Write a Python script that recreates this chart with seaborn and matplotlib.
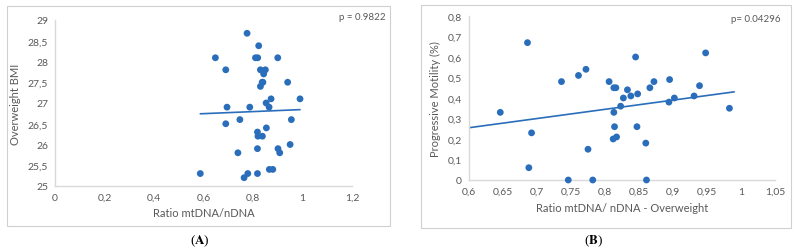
import numpy as np
import pandas as pd
import seaborn as sns
import matplotlib
matplotlib.use("Agg")
import matplotlib.pyplot as plt
from matplotlib.ticker import FuncFormatter
from matplotlib.patches import Rectangle

# Panel A data
a_ratio = [0.776, 0.823, 0.648, 0.810, 0.819, 0.900, 0.690, 0.830, 0.850, 0.843,
           0.940, 0.837, 0.830, 0.840, 0.990, 0.873, 0.853, 0.865, 0.695, 0.787,
           0.747, 0.955, 0.690, 0.854, 0.818, 0.820, 0.838, 0.950, 0.818, 0.901,
           0.908, 0.739, 0.587, 0.779, 0.764, 0.818, 0.866, 0.880]
a_bmi = [28.68, 28.38, 28.09, 28.09, 28.09, 28.09, 27.80, 27.80, 27.80, 27.70,
         27.50, 27.50, 27.40, 27.50, 27.10, 27.10, 27.00, 26.90, 26.90, 26.90,
         26.60, 26.60, 26.50, 26.40, 26.30, 26.20, 26.20, 26.00, 25.90, 25.90,
         25.80, 25.80, 25.30, 25.30, 25.20, 25.30, 25.40, 25.40]
a_trend_x = [0.587, 0.990]
a_trend_y = [26.74, 26.84]

# Panel B data
b_ratio = [0.646, 0.686, 0.688, 0.692, 0.736, 0.746, 0.761, 0.772, 0.775, 0.782,
           0.806, 0.813, 0.816, 0.813, 0.814, 0.812, 0.817, 0.823, 0.827, 0.833,
           0.838, 0.845, 0.848, 0.847, 0.860, 0.861, 0.866, 0.872, 0.894, 0.895,
           0.902, 0.931, 0.939, 0.948, 0.983]
b_motility = [0.33, 0.67, 0.06, 0.23, 0.48, 0.00, 0.51, 0.54, 0.15, 0.00,
              0.48, 0.45, 0.45, 0.33, 0.26, 0.20, 0.21, 0.36, 0.40, 0.44,
              0.41, 0.60, 0.42, 0.26, 0.18, 0.00, 0.45, 0.48, 0.38, 0.49,
              0.40, 0.41, 0.46, 0.62, 0.35]
b_trend_x = [0.600, 0.990]
b_trend_y = [0.255, 0.430]

a_xticks = [0, 0.2, 0.4, 0.6, 0.8, 1.0, 1.2]
a_yticks = [25, 25.5, 26, 26.5, 27, 27.5, 28, 28.5, 29]
b_xticks = [0.6, 0.65, 0.7, 0.75, 0.8, 0.85, 0.9, 0.95, 1.0, 1.05]
b_yticks = [0, 0.1, 0.2, 0.3, 0.4, 0.5, 0.6, 0.7, 0.8]

sns.set_theme(style="white")
plt.rcParams['font.family'] = ['Lato', 'DejaVu Sans']

BLUE = '#2a6ebb'
GRID = '#d9d9d9'
TXT = '#595959'

fig = plt.figure(figsize=(7.96, 2.51), dpi=100)
W, H = 796, 251

def fr(x0, y0, x1, y1):
    return [x0 / W, 1 - y1 / H, (x1 - x0) / W, (y1 - y0) / H]

# Frames
for (x0, y0, x1, y1) in [(7, 7, 390, 227), (421, 6, 791, 229)]:
    fig.patches.append(Rectangle((x0 / W, 1 - y1 / H), (x1 - x0) / W, (y1 - y0) / H,
                                 transform=fig.transFigure, fill=False,
                                 edgecolor='#d0d0d0', linewidth=0.8))

def fmt(v, pos):
    s = ('%.2f' % v).rstrip('0').rstrip('.')
    return s.replace('.', ',')

def style(ax, xt, yt, xl, yl, xlab, ylab):
    ax.set_xlim(*xl)
    ax.set_ylim(*yl)
    ax.set_xticks(xt)
    ax.set_yticks(yt)
    ax.xaxis.set_major_formatter(FuncFormatter(fmt))
    ax.yaxis.set_major_formatter(FuncFormatter(fmt))
    for s in ['top', 'right']:
        ax.spines[s].set_visible(False)
    for s in ['left', 'bottom']:
        ax.spines[s].set_color(GRID)
        ax.spines[s].set_linewidth(1.0)
    ax.tick_params(length=0, labelsize=7.5, colors=TXT, pad=5)
    ax.set_xlabel(xlab, fontsize=8, color=TXT, labelpad=4)
    ax.set_ylabel(ylab, fontsize=8, color=TXT, labelpad=5)
    ax.patch.set_alpha(0)

axA = fig.add_axes(fr(55, 21, 352, 187))
sns.scatterplot(x=a_ratio, y=a_bmi, ax=axA, color=BLUE, s=24, edgecolor='none', zorder=3)
sns.lineplot(x=a_trend_x, y=a_trend_y, ax=axA, color=BLUE, linewidth=1.2)
style(axA, a_xticks, a_yticks, (0, 1.2), (25, 29), 'Ratio mtDNA/nDNA', 'Overweight BMI')
fig.text(362 / W, 1 - 18 / H, 'p = 0.9822', fontsize=7, color=TXT, ha='center', va='center')

axB = fig.add_axes(fr(469, 17, 775, 181))
sns.scatterplot(x=b_ratio, y=b_motility, ax=axB, color=BLUE, s=24, edgecolor='none', zorder=3, clip_on=False)
sns.lineplot(x=b_trend_x, y=b_trend_y, ax=axB, color=BLUE, linewidth=1.2)
style(axB, b_xticks, b_yticks, (0.6, 1.05), (0, 0.8), 'Ratio mtDNA/ nDNA - Overweight', 'Progressive Motility (%)')
fig.text(756 / W, 1 - 19 / H, 'p= 0.04296', fontsize=7, color=TXT, ha='center', va='center')

fig.text(200 / W, 1 - 241 / H, r'($\mathbf{A}$)', fontsize=9.5, color='black', ha='center', va='center',
         family='Liberation Serif', math_fontfamily='stix')
fig.text(594 / W, 1 - 241 / H, r'($\mathbf{B}$)', fontsize=9.5, color='black', ha='center', va='center',
         family='Liberation Serif', math_fontfamily='stix')

fig.savefig('out.png', dpi=100)
